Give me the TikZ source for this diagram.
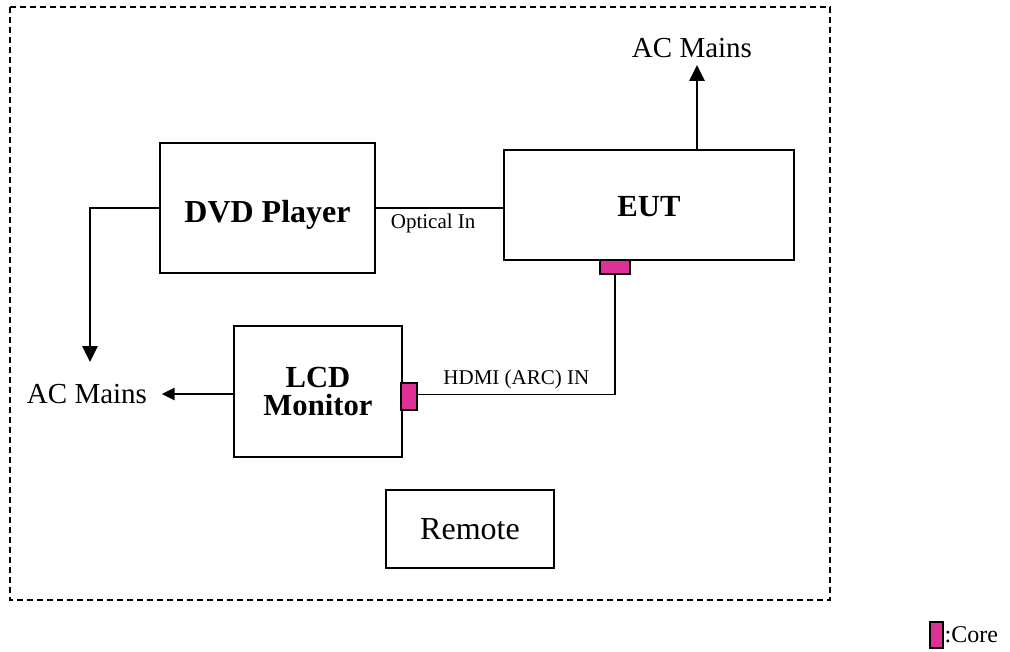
\documentclass[tikz,border=0pt]{standalone}
\usepackage{fontspec}
\setmainfont{Liberation Serif}
\usetikzlibrary{arrows.meta}

\definecolor{coremag}{RGB}{222,48,150}

\tikzset{
	box/.style={draw, line width=1.5pt, align=center},
	core/.style={draw, line width=1.1pt, fill=coremag, inner sep=0pt},
	power/.style={line width=2.2pt, -{Triangle[width=11.25pt,length=12pt]}},
	cable/.style={line width=1.1pt},
	big/.style={font=\fontsize{23}{21.5}\selectfont\bfseries},
	mains/.style={font=\fontsize{21.75}{26}\selectfont},
	small/.style={font=\fontsize{15.75}{18}\selectfont}
}

\begin{document}
\begin{tikzpicture}[x=0.75pt,y=-0.75pt]

		\useasboundingbox (0,0) rectangle (1010,652);

		\draw [dash pattern=on 4.5pt off 3pt, line width=1.1pt] (10,7) rectangle (830,600);

		\node (dvd) [box, big, font=\fontsize{24}{27}\selectfont\bfseries, minimum width=161.25pt, minimum height=97.5pt, text height=22.5pt, text depth=0pt] at (267.5,208) {DVD Player};
		\node (eut) [box, big, minimum width=217.5pt, minimum height=82.5pt, text height=18pt, text depth=0pt] at (649,205) {EUT};
		\node (lcd) [box, big, minimum width=126pt, minimum height=98.25pt] at (318,391.5) {LCD\\Monitor};
		\node (remote) [box, font=\fontsize{24}{27}\selectfont, minimum width=126pt, minimum height=58.5pt] at (470,529) {Remote};

		\node (coreeut) [core, minimum width=22.5pt, minimum height=10.5pt] at (615,267) {};
		\node (corelcd) [core, minimum width=12pt, minimum height=20.25pt] at (409,396.5) {};

		\node (acup) [mains] at (692,48) {AC Mains};
		\node (acleft) [mains] at (87,394) {AC Mains};

		\coordinate (uptip) at (697,65);
		\coordinate (downtip) at (90,362);

		% power leads
		\draw [power] (uptip |- eut.north) -- (uptip);
		\draw [power] (dvd.west) -- (dvd.west -| downtip) -- (downtip);
		\draw [line width=2.2pt, -{Triangle[width=9pt,length=9.75pt]}] (lcd.west |- acleft.east) -- ([xshift=7.5pt]acleft.east);

		% signal cables
		\draw [line width=0.8pt] (dvd.east) -- (dvd.east -| eut.west)
			node [small, pos=0.45, below=1pt] {Optical In};
		\draw [cable] (coreeut.south) |- ([yshift=1.5pt]corelcd.east)
			node [small, pos=0.75, above=0pt] {HDMI (ARC) IN};

		% legend
		\node (corekey) [core, minimum width=9.75pt, minimum height=19.5pt] at (936.5,635) {};
		\node [font=\fontsize{18}{21}\selectfont, anchor=west, inner sep=0.5pt] at (corekey.east) {:Core};

\end{tikzpicture}
\end{document}
